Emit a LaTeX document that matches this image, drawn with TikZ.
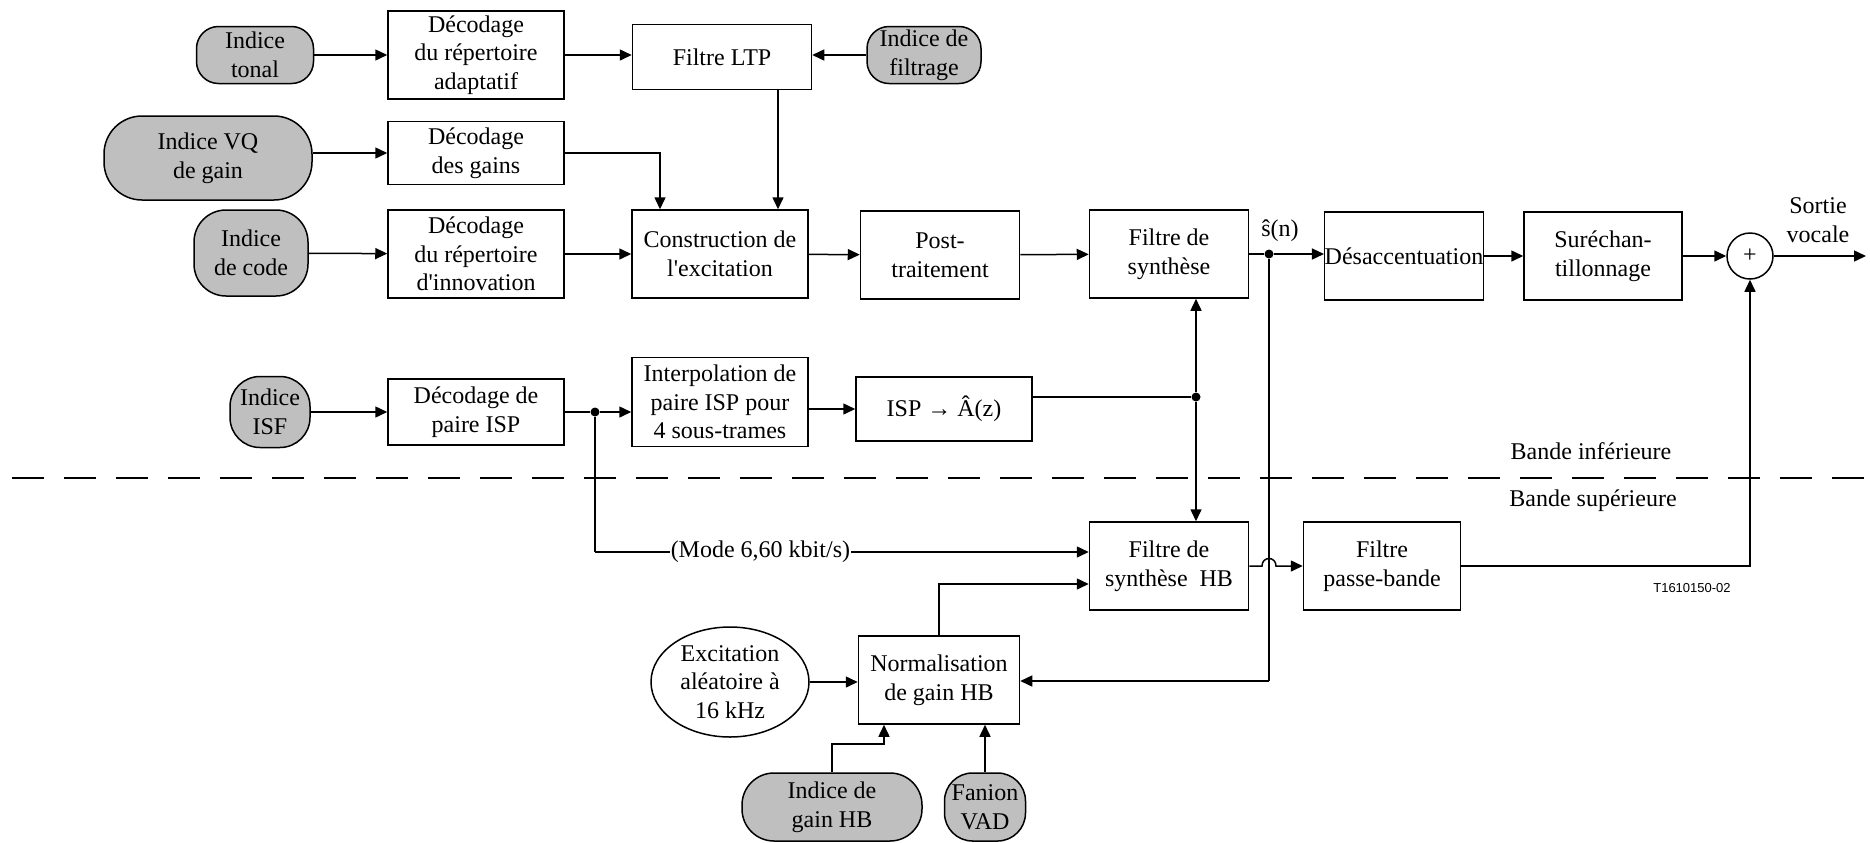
\documentclass[tikz,border=0pt]{standalone}
\usepackage{fontspec}
\setmainfont{Liberation Serif}
\setsansfont{Liberation Sans}
\usetikzlibrary{shapes.geometric,arrows.meta}
\definecolor{idxgray}{gray}{0.75}

\begin{document}
\begin{tikzpicture}[x=0.5pt,y=-0.5pt,line width=0.75pt,
  font=\fontsize{12}{14.3}\selectfont,
  >={Triangle[length=6pt,width=5.5pt]},
  blk/.style={draw,fill=white,align=center,inner sep=1pt,minimum width=88pt,minimum height=44pt},
  idx/.style={draw,fill=idxgray,align=center,inner sep=0pt,rounded corners=#1},
  idx/.default=11pt,
  jdot/.style={circle,fill,inner sep=0pt,minimum size=4.5pt}]
  \useasboundingbox (0,0) rectangle (1870,842);

  % Upper row: excitation decoding
  \node[idx,minimum width=58.5pt,minimum height=28.5pt] (tonal) at (255,55) {Indice\\tonal};
  \node[blk] (decA) at (476,55) {Décodage\\du répertoire\\adaptatif};
  \node[blk,minimum width=89.5pt,minimum height=32.5pt] (ltp) at (722,57) {Filtre LTP};
  \node[idx,minimum width=57pt,minimum height=28.5pt] (filt) at (924,55) {Indice de\\filtrage};
  \node[idx=19pt,minimum width=104pt,minimum height=42pt] (vq) at (208,158) {Indice VQ\\de gain};
  \node[blk,minimum height=31.5pt] (decG) at (476,153) {Décodage\\des gains};
  \node[idx=16pt,minimum width=57pt,minimum height=43pt] (code) at (251,253) {Indice\\de code};
  \node[blk] (decI) at (476,254) {Décodage\\du répertoire\\d\textquotesingle innovation};
  \node[blk] (constr) at (720,254) {Construction de\\l\textquotesingle excitation};
  \node[blk,minimum width=79.5pt] (post) at (940,255) {Post-\\traitement};
  \node[blk,minimum width=79.5pt] (synth) at (1169,254) {Filtre de\\synthèse};
  \node[jdot] (j1) at (1269,254) {};
  \node (shat) at (1280,231) {ŝ(n)};
  \node[blk,minimum width=78.5pt,inner sep=0pt] (desac) at (1404,256) {Désaccentuation};
  \node[blk,minimum width=79pt] (surech) at (1603,256) {Suréchan-\\tillonnage};
  \node[circle,draw,minimum size=23pt,inner sep=0pt] (sum) at (1750,256) {+};
  \coordinate (out) at (1866,256);
  \node[align=center] (sortie) at (1818,220) {Sortie\\vocale};

  % ISP path
  \node[idx=15pt,minimum width=40pt,minimum height=35.5pt] (isf) at (270,412) {Indice\\ISF};
  \node[blk,minimum height=33pt] (decP) at (476,412) {Décodage de\\paire ISP};
  \node[jdot] (j2) at (595,412) {};
  \node[blk,minimum height=44.5pt] (interp) at (720,402) {Interpolation de\\paire ISP pour\\4 sous-trames};
  \node[blk,minimum height=32pt] (ispA) at (944,409) {ISP → Â(z)};
  \node[jdot] (j3) at (1196,397) {};

  % band separation
  \draw[dash pattern=on 16pt off 10pt] (12,478) -- (1870,478);
  \node (binf) at (1591,451) {Bande inférieure};
  \node (bsup) at (1593,501) {Bande supérieure};

  % Upper band (HB)
  \node[blk,minimum width=79.5pt] (hb) at (1169,566) {Filtre de\\synthèse~~HB};
  \node[blk,minimum width=78.5pt] (pb) at (1382,566) {Filtre\\passe-bande};
  \node[font=\sffamily\fontsize{6.5}{8}\selectfont] (tref) at (1692,588) {T1610150-02};
  \node[blk,minimum width=80.5pt] (norm) at (939,680) {Normalisation\\de gain HB};
  \node[ellipse,draw,align=center,minimum width=79pt,minimum height=55pt,inner sep=0pt] (exc) at (730,682) {Excitation\\aléatoire à\\16 kHz};
  \node[idx=16pt,minimum width=90pt,minimum height=34pt] (gain) at (832,807) {Indice de\\gain HB};
  \node[idx=14pt,minimum width=40.5pt,minimum height=34pt] (vad) at (985,807) {Fanion\\VAD};

  \coordinate (m1) at (595,552);
  \coordinate (n1) at (939,584);
  \coordinate (s1) at (1269,681);
  \coordinate (h1) at (1262,566);
  \coordinate (h2) at (1276,566);
  \coordinate (g1) at (832,744);
  \coordinate (g2) at (884,744);

  % connections, lower band
  \draw[->] (tonal) -- (decA);
  \draw[->] (decA.east) -- (decA.east -| ltp.west);
  \draw[->] (filt) -- (filt -| ltp.east);
  \draw[->] (vq.east |- decG.west) -- (decG.west);
  \draw[->] (decG.east) -| ([xshift=-30pt]constr.north);
  \draw[->] ([xshift=28pt]ltp.south) -- ([xshift=28pt]ltp.south |- constr.north);
  \draw[->] (code) -- (decI);
  \draw[->] (decI) -- (constr);
  \draw[->] (constr) -- (post);
  \draw[->] (post) -- (synth);
  \draw (synth.east) -- (j1);
  \draw[->] (j1) -- (j1 -| desac.west);
  \draw[->] (desac) -- (surech);
  \draw[->] (surech) -- (sum);
  \draw[->] (sum) -- (out);
  \draw[->] (isf) -- (decP);
  \draw (decP) -- (j2);
  \draw[->] (j2) -- (j2 -| interp.west);
  \draw[->] (ispA.west -| interp.east) -- (ispA.west);
  \draw (j3 -| ispA.east) -- (j3);
  \draw[->] (j3) -- (j3 |- synth.south);
  \draw[->] (j3) -- (j3 |- hb.north);

  % connections, upper band
  \draw (j2) -- (m1);
  \draw[->] (m1) -- node[pos=0.335,fill=white,inner sep=0.5pt] (mode) {(Mode 6,60 kbit/s)} (m1 -| hb.west);
  \draw[->] (norm.north) -- (n1) -- (n1 -| hb.west);
  \draw[->] (exc) -- (exc -| norm.west);
  \draw (j1) -- (s1);
  \draw[->] (s1) -- (s1 -| norm.east);
  \draw[->] (hb.east) -- (h1) .. controls (1262,556) and (1276,556) .. (h2) -- (pb.west);
  \draw[->] (pb.east) -| (sum.south);
  \draw[->] (gain.north) -- (g1) -- (g2) -- (g2 |- norm.south);
  \draw[->] (vad.north) -- (vad.north |- norm.south);
\end{tikzpicture}
\end{document}
